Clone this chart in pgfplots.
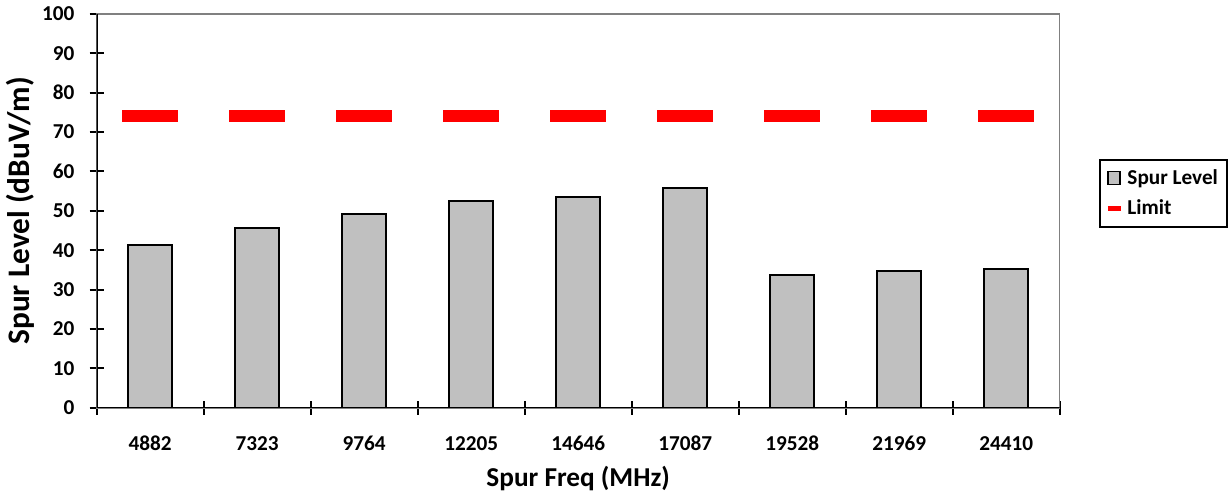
\documentclass[border=0pt]{standalone}
\usepackage{pgfplots}
\pgfplotsset{compat=1.18}
\usepackage{fontspec}
\setmainfont{Carlito}
\definecolor{barfill}{RGB}{192,192,192}
\definecolor{limitred}{RGB}{255,0,0}
\begin{document}
\begin{tikzpicture}
\begin{axis}[
  scale only axis, width=476.5pt, height=195pt,
  xmin=-0.5, xmax=8.5, ymin=0, ymax=100,
  ytick={0,10,...,100},
  xtick={-0.5,0.5,...,8.5}, xticklabels={},
  extra x ticks={0,1,2,3,4,5,6,7,8},
  extra x tick labels={4882,7323,9764,12205,14646,17087,19528,21969,24410},
  extra x tick style={major tick length=0pt, xticklabel style={anchor=center, yshift=-17.5pt}},
  tick align=center, major tick length=7pt,
  tick pos=left,
  tick style={black, line width=1pt},
  axis line style={draw=gray, line width=0.8pt},
  ticklabel style={font=\bfseries\fontsize{10.5}{12}\selectfont},
  yticklabel style={anchor=east, xshift=-4pt},
  /pgf/number format/assume math mode=true,
  xlabel={Spur Freq (MHz)}, ylabel={Spur Level (dBuV/m)},
  xlabel style={font=\bfseries\fontsize{13.5}{16}\selectfont, at={(axis description cs:0.5,-0.1795)}, anchor=center},
  ylabel style={font=\bfseries\fontsize{15.5}{18}\selectfont, at={(axis description cs:-0.0787,0.5)}, anchor=center},
  legend style={at={(axis description cs:1.041,0.544)}, anchor=west, draw=black, line width=1pt,
    font=\bfseries\fontsize{10.5}{12.5}\selectfont, inner sep=2.5pt, row sep=2pt},
  legend cell align=left,
]
\addplot[ybar, bar width=21.5pt, fill=barfill, draw=black, line width=1pt,
  legend image code/.code={\draw[fill=barfill, draw=black, line width=0.8pt] (0pt,-3pt) rectangle (6pt,3.5pt);}]
  coordinates {(0,41.3) (1,45.6) (2,49.1) (3,52.6) (4,53.6) (5,55.9) (6,33.7) (7,34.8) (8,35.2)};
\addlegendentry{Spur Level}
\addplot[limitred, line width=6pt, line cap=butt, unbounded coords=jump, mark=none,
  legend image code/.code={\draw[limitred, line width=2.5pt] (0pt,0pt) -- (6.5pt,0pt);}]
  coordinates {(-0.26,74) (0.26,74) (0.5,nan) (0.74,74) (1.26,74) (1.5,nan)
   (1.74,74) (2.26,74) (2.5,nan) (2.74,74) (3.26,74) (3.5,nan)
   (3.74,74) (4.26,74) (4.5,nan) (4.74,74) (5.26,74) (5.5,nan)
   (5.74,74) (6.26,74) (6.5,nan) (6.74,74) (7.26,74) (7.5,nan)
   (7.74,74) (8.26,74)};
\addlegendentry{Limit}
\draw[black, line width=1pt] (rel axis cs:0,1) -- (rel axis cs:0,0) -- (rel axis cs:1,0);
\path (rel axis cs:0,0.5) ++(-52.5pt,0pt);
\end{axis}
\end{tikzpicture}
\end{document}
